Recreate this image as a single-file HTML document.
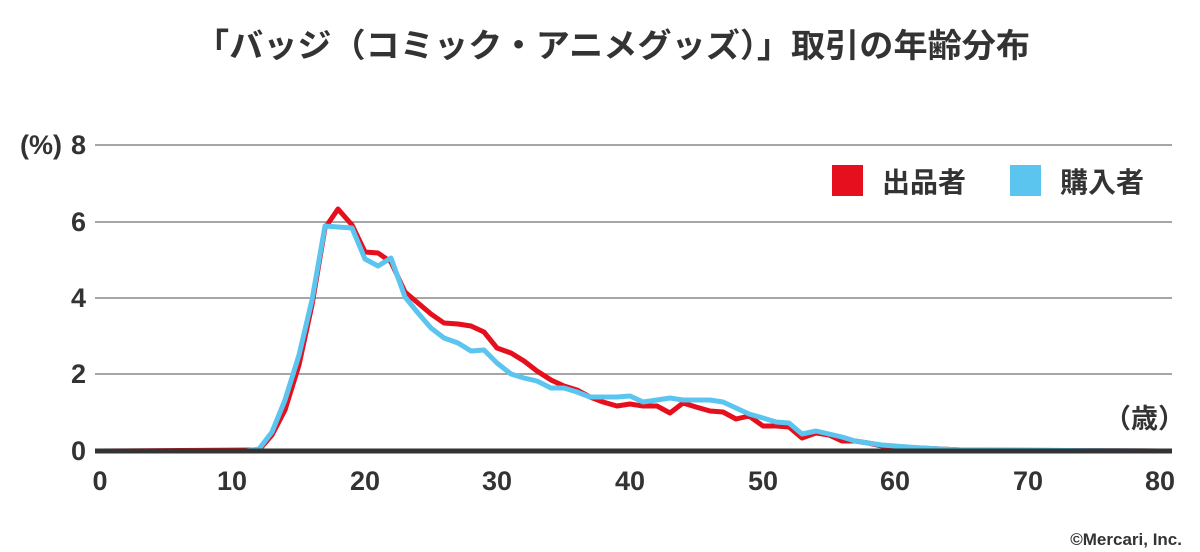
<!DOCTYPE html>
<html><head><meta charset="utf-8"><style>
body{margin:0;background:#fff;}
svg{display:block;font-family:"Liberation Sans","Noto Sans CJK JP",sans-serif;}
</style></head><body>
<svg width="1200" height="552" viewBox="0 0 1200 552">
<text x="195" y="57" textLength="835" lengthAdjust="spacingAndGlyphs" font-size="33" font-weight="bold" fill="#333">「バッジ（コミック・アニメグッズ）」取引の年齢分布</text>
<g stroke="#888" stroke-width="1.5">
<line x1="95" y1="145" x2="1172" y2="145"/>
<line x1="95" y1="222" x2="1172" y2="222"/>
<line x1="95" y1="298" x2="1172" y2="298"/>
<line x1="95" y1="374" x2="1172" y2="374"/>
</g>
<g font-size="27" font-weight="bold" fill="#333" text-anchor="end">
<text x="86" y="154">8</text><text x="86" y="231">6</text><text x="86" y="307">4</text><text x="86" y="383">2</text><text x="86" y="460">0</text>
<text x="62" y="154">(%)</text>
</g>
<text x="1185" y="428" text-anchor="end" font-size="27" font-weight="bold" fill="#333">（歳）</text>
<g font-size="27" font-weight="bold" fill="#333" text-anchor="middle">
<text x="100" y="490">0</text><text x="232" y="490">10</text><text x="365" y="490">20</text><text x="497" y="490">30</text><text x="630" y="490">40</text><text x="763" y="490">50</text><text x="895" y="490">60</text><text x="1028" y="490">70</text><text x="1160" y="490">80</text>
</g>
<text x="1182" y="545" text-anchor="end" font-size="17" font-weight="bold" fill="#333">©Mercari, Inc.</text>
<rect x="832" y="165" width="31" height="31" fill="#e60f1e"/>
<text x="882" y="192" font-size="28" font-weight="bold" fill="#333">出品者</text>
<rect x="1010" y="165" width="31" height="31" fill="#5bc5ef"/>
<text x="1060" y="192" font-size="28" font-weight="bold" fill="#333">購入者</text>
<polyline fill="none" stroke="#e60f1e" stroke-width="5" stroke-linejoin="round" points="100,451 259,450 272,435 285,410 299,365 312,305 325,228 338,209 352,225 365,252 378,253 391,262 405,292 418,303 431,314 444,323 458,324 471,326 484,332 497,348 511,353 524,361 537,371 551,380 564,386 577,390 590,397 603,402 617,406 630,404 643,406 657,406 670,413 683,403 696,407 710,411 723,412 736,419 749,416 763,426 776,426 789,427 802,438 816,433 829,435 842,441 855,441 868,443 882,446 895,447 921,448 961,450 1160,451"/>
<polyline fill="none" stroke="#5bc5ef" stroke-width="5" stroke-linejoin="round" points="100,451 246,451 259,449 272,432 285,400 299,355 312,300 325,226 338,227 352,228 365,259 378,266 391,258 405,297 418,313 431,328 444,338 458,343 471,351 484,350 497,363 511,374 524,378 537,381 551,388 564,388 577,392 590,397 603,397 617,397 630,396 643,402 657,400 670,398 683,400 696,400 710,400 723,402 736,408 749,414 763,418 776,422 789,423 802,434 816,431 829,434 842,437 855,441 868,443 882,445 895,446 921,448 961,450 1160,451"/>
<line x1="95" y1="451" x2="1172" y2="451" stroke="#333" stroke-width="5"/>
</svg>
</body></html>
